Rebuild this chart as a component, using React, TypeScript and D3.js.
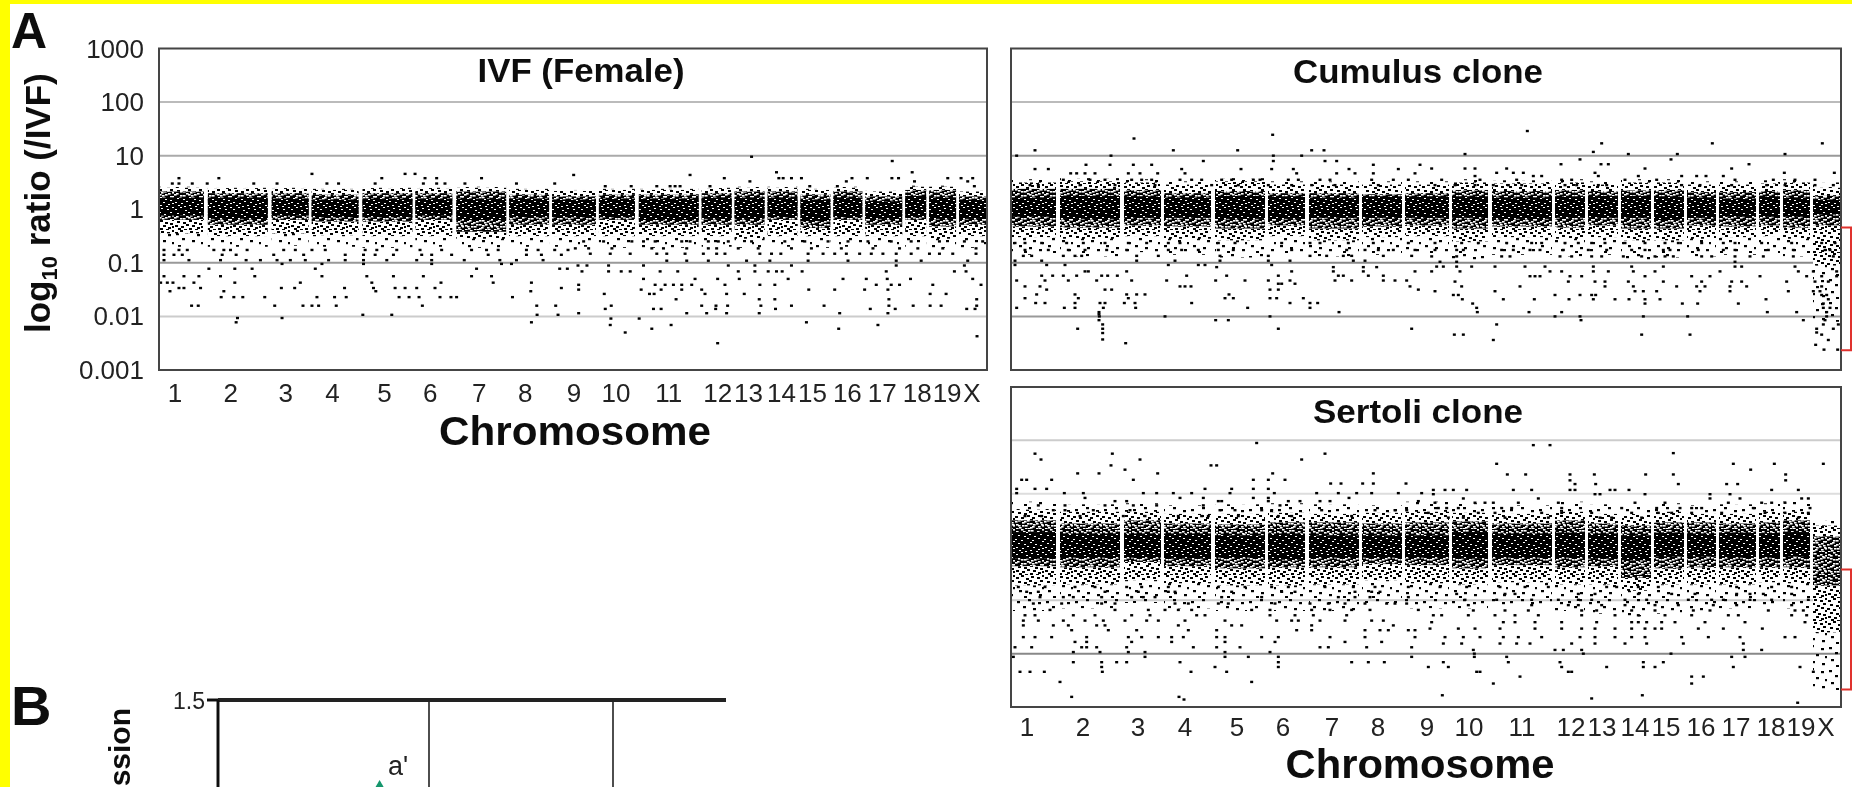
import React from "react";
import * as d3 from "d3";

// ---------- shared categories ----------
const chromosomes = ["1","2","3","4","5","6","7","8","9","10","11","12","13","14","15","16","17","18","19","X"];
const chromStart = [0,49,113,153,204,257,298,351,394,441,481,544,577,610,643,676,708,748,772,802];
const chromEnd   = [45,109,150,200,254,294,348,391,438,477,541,574,607,640,673,705,745,769,799,829];
const chromLabelAt = [16,72,127,174,226,272,321,367,416,458,511,560,591,624,655,690,725,760,790,815];
const ratioTicks = [1000,100,10,1,0.1,0.01,0.001];
const ratioTickLabels = ["1000","100","10","1","0.1","0.01","0.001"];

// ---------- density bands per chromosome (log10 ratio) ----------
const ivfDenseHi = [.22,.22,.2,.18,.2,.2,.2,.2,.18,.2,.2,.22,.22,.22,.18,.22,.15,.25,.22,.18];
const ivfDenseLo = [-.12,-.18,-.12,-.15,-.15,-.12,-.2,-.15,-.15,-.15,-.2,-.18,-.18,-.15,-.22,-.15,-.18,-.15,-.18,-.18];
const ivfMidHi = [.33,.3,.3,.27,.3,.3,.33,.27,.24,.27,.27,.3,.33,.33,.27,.33,.24,.36,.36,.24];
const ivfMidLo = [-.2,-.29,-.2,-.23,-.23,-.2,-.42,-.29,-.29,-.2,-.29,-.29,-.29,-.2,-.35,-.2,-.29,-.2,-.32,-.29];
const ivfSparseHi = [.4,.38,.38,.36,.38,.38,.4,.36,.34,.36,.36,.38,.4,.4,.36,.4,.33,.42,.42,.33];
const ivfSparseLo = [-.45,-.5,-.45,-.48,-.5,-.5,-.55,-.5,-.5,-.5,-.5,-.5,-.55,-.5,-.5,-.5,-.5,-.5,-.55,-.5];
const ivfTailHi = [.42,.4,.4,.38,.4,.4,.42,.38,.36,.38,.38,.4,.42,.42,.38,.42,.35,.44,.44,.35];
const ivfTailLo = [-.7,-.7,-.68,-.7,-.72,-.7,-.72,-.7,-.7,-.72,-.72,-.7,-.72,-.7,-.72,-.7,-.7,-.7,-.72,-.72];

const cumDenseHi = [.22,.25,.24,.22,.25,.24,.22,.24,.24,.24,.22,.24,.25,.25,.24,.22,.2,.24,.22,.18];
const cumDenseLo = [-.14,-.18,-.16,-.16,-.18,-.18,-.16,-.16,-.16,-.16,-.18,-.16,-.16,-.16,-.2,-.16,-.14,-.14,-.14,-.1];
const cumMidHi = [.38,.38,.36,.3,.34,.3,.3,.28,.3,.36,.34,.36,.34,.35,.36,.32,.32,.34,.36,.25];
const cumMidLo = [-.32,-.34,-.3,-.32,-.36,-.3,-.36,-.32,-.3,-.36,-.32,-.34,-.3,-.36,-.36,-.3,-.32,-.3,-.34,-.3];
const cumSparseHi = [.5,.52,.5,.46,.52,.46,.46,.46,.46,.5,.48,.5,.46,.5,.5,.46,.46,.48,.5,.4];
const cumSparseLo = [-.52,-.55,-.5,-.55,-.58,-.5,-.58,-.52,-.5,-.6,-.52,-.55,-.52,-.58,-.58,-.55,-.52,-.5,-.55,-1.05];
const cumTailHi = [.56,.58,.56,.52,.58,.52,.52,.52,.52,.56,.54,.56,.52,.56,.56,.52,.52,.54,.56,.5];
const cumTailLo = [-.85,-.88,-.8,-.85,-.9,-.82,-.88,-.85,-.82,-.95,-.85,-.88,-.85,-.95,-.9,-.88,-.85,-.82,-.88,-2.1];

const serDenseHi = [.28,.25,.25,.25,.22,.25,.22,.22,.22,.28,.25,.27,.25,.22,.27,.25,.27,.26,.28,0];
const serDenseLo = [-.22,-.2,-.2,-.22,-.2,-.24,-.2,-.2,-.2,-.22,-.2,-.2,-.22,-.25,-.18,-.18,-.2,-.2,-.18,0];
const serMidHi = [.5,.44,.5,.44,.42,.46,.46,.44,.46,.48,.44,.5,.44,.4,.46,.46,.44,.46,.5,.2];
const serMidLo = [-.36,-.38,-.28,-.36,-.4,-.38,-.38,-.32,-.34,-.4,-.34,-.38,-.36,-.58,-.4,-.38,-.38,-.38,-.38,-.72];
const serSparseHi = [.7,.66,.66,.62,.62,.64,.62,.64,.66,.64,.62,.66,.62,.6,.66,.62,.62,.66,.66,.4];
const serSparseLo = [-.72,-.7,-.62,-.68,-.72,-.72,-.7,-.62,-.68,-.7,-.66,-.7,-.7,-.82,-.7,-.7,-.7,-.66,-.68,-1.6];
const serTailHi = [.85,.8,.82,.78,.8,.82,.8,.78,.85,.82,.78,.85,.8,.75,.82,.78,.8,.82,.85,.5];
const serTailLo = [-1.2,-1.15,-1.05,-1.15,-1.2,-1.2,-1.2,-1.05,-1.15,-1.15,-1.1,-1.2,-1.25,-1.3,-1.25,-1.2,-1.15,-1.1,-1.15,-2.7];

// ---------- individually legible spots: [log10 ratio, positions in thirds of a genome unit] ----------
type Row = [number, number[]];
const ivfRowsA: Row[] = [
  [.66,[460,740,770]],[.58,[60,180,670,800,835,970]],[.48,[40,60,100,145,285,355,505,540,650,795,835,860,920,1075,1190]],
  [-.76,[15,60,85,165,195,215,265,375,410,460,500,620,655,715,785,850,940,985,1020,1105,1140,1190,1230]],
  [-.85,[15,45,70,190,232,345,435,560,615,650,705,790,820,880,990,1105,1150,1210]],
  [-.95,[15,90,185,262,305,355,395,440,510,560,615,685,775,820,918,1025,1075,1155]],
  [-1.02,[370,490,615,820,1030,1060]],[-1.11,[150,228,280,470,955,1205,1228]],
  [-1.25,[15,75,120,185,288,490,625,705,795,1000,940]],[-1.37,[5,25,42,105,228,425,640,848,1005,1120]],
  [-1.47,[125,60,75,368,408,558,645,710,740,775,830,1210]],[-1.53,[33,195,652,1118]],
  [-1.64,[187,225,252,318,528,563,475,722,752,782,845,878,895,1063]],[-1.8,[98,118,348,433,460,480,533,792,1136,1193]],
  [-1.97,[613,700,1137,1200]],[-2.03,[236,370]],[-2.11,[232,1120]],
];
const ivfRowsB: Row[] = [
  [.98,[540]],[.9,[963]],[.69,[615,1023]],[.64,[5,355]],[.58,[458,622,635,660,690,842,888,962,982,1130,1170,1205]],
  [.52,[535,825,1030,1190]],[.43,[100,178,255,295,310,325,415,715,798,1210]],
  [-.6,[35,95,180,215,250,330,355,410,440,470,540,640,700,770,830,890,960,1020,1105,1180,1235]],
  [-.73,[10,50,120,240,275,345,410,435,500,560,660,720,810,905,985,1040,1115,1215]],
  [-.83,[55,115,175,255,285,340,395,435,460,565,600,628,710,755,790,825,865,900,935,975,1020,1075,1105,1145,1215]],
  [-.96,[285,345,410,525,595,710,830,975,1050,1190]],[-1.05,[18,45,110,215,470,550,660,975,1180]],
  [-1.16,[110,30,148,175,265,318,500,550,590,615,632,692,945,1150,1185]],
  [-1.3,[215,370,438,503,650,815,885,948,1018,1205]],[-1.41,[20,250,280,305,330,360,460,565,610,915,960,985,1085,1230]],
  [-1.5,[20,208,268,330,390,712,790,880,950]],[-1.58,[97,233,247,400,465,518,1077,1125]],
  [-1.68,[313,563,610,953,1217]],[-1.8,[118,390,433,468,568,660,758,953,1026,1077,1110,1217]],
  [-1.86,[100,245,268,432,612,897,972,1187,1212]],[-1.94,[20,345,405,465,563,805,950]],
  [-2.04,[117,202]],[-2.11,[705]],[-2.16,[115,298,920]],[-2.23,[240,802]],[-2.3,[160]],[-2.37,[1218]],[-2.5,[438]],
];
const cumRowsA: Row[] = [
  [1.39,[803]],[1.32,[387]],[1.1,[90,505,698,920,957]],[1,[35,318,805,890]],[.9,[595,805,960,995]],
  [.83,[243,315,385,440,1105,1245]],[.75,[90,130,530,708,800,865,1032,1180]],
  [.67,[197,215,240,270,370,405,458,540,875,995,1050,1105,1230]],
  [.55,[175,255,300,380,410,440,525,560,590,650,680,745,765,850,880,945,975,1100,1165,1210]],
  [.45,[75,100,225,330,450,620,700,790,860,920,990,1120]],
  [-.63,[30,60,110,185,235,300,370,425,490,525,640,690,830,915,945,1030,1105,1210]],
  [-.76,[60,130,190,240,305,365,490,530,580,640,685,860,1025,1080,1120,1165,1230]],
  [-.87,[55,80,175,210,230,395,460,645,790,915,965,1015,1040,1135,1220]],[-.96,[30,110,395,510,645,790,855,1045,1080]],
  [-1.04,[30,125,180,490,580,600,800]],[-1.08,[635,985,1075,1115]],[-1.16,[240,250,365,860,985,1075,1230]],
  [-1.24,[110,143,175,215,290,308,337,545,665,820,1000,1015,1090,1135]],
  [-1.33,[35,120,190,275,380,485,632,720,790,855,990,1040,1135,1170,1205]],[-1.39,[820,830,870]],
  [-1.44,[60,105,525,540,558,1215]],[-1.5,[125,300,320,795,820,1240]],[-1.59,[95,210,365,395,672,420]],
  [-1.66,[60,220,370,685,660,795,815,895]],[-1.75,[92,120,210,285,300,358,390,560,855,915,938]],
  [-1.84,[35,178,210,295,392,728,915]],[-1.92,[282,1002]],[-1.96,[282]],[-2,[480,283,795]],[-2.07,[282,632,670]],
  [-2.15,[293]],[-2.23,[218,293,820,1220]],[-2.31,[293]],[-2.43,[293]],[-2.5,[362]],
];
const cumRowsB: Row[] = [
  [1.46,[307]],[1.23,[530,862,1192]],[1.07,[505]],[1.03,[120,610,757,1080]],[.93,[465,738]],[.84,[408,528,972,550]],
  [.76,[20,120,150,245,660,920]],[.68,[215,265,295,510,1078,1228]],[.62,[150,325,350,520,640,770,815,843,895]],
  [.55,[50,165,275,410,440,600,695,930,1045,1110,1170]],
  [.45,[30,90,150,205,250,290,420,455,520,545,770,825,920,1025,1080,1170,1225]],
  [-.63,[30,110,160,245,320,350,420,460,500,540,600,660,720,760,830,895,930,1010,1100,1190,1230]],
  [-.76,[30,95,115,230,265,315,345,415,490,545,620,660,715,735,820,895,930,1030,1105,1200,1215]],
  [-.88,[20,95,230,255,405,440,500,530,595,650,690,720,745,830,860,930,975,1015,1105,1225]],[-.98,[45,95,930]],
  [-1.07,[35,55,95,140,210,300,360,505,620,715,930,950,1110]],[-1.16,[20,105,375,410,505,550,625,690,885,1120,1165,1235]],
  [-1.25,[315,330,345,435,470,660,800,855,1005,1145,1190,1235]],[-1.35,[90,430,510,540,610,715,830,920,950,1085,1170,1210]],
  [-1.44,[110,285,540,625,755,815,840,915,965,1190]],[-1.53,[30,210,630,655,695,825,915,1090,1165,1185]],
  [-1.6,[85,100,390,465,500,512,1205,1190]],[-1.68,[112,235,328,432,505,570,612,660,705,1023,1210]],
  [-1.76,[143,660,772,818,940,1195]],[-1.84,[155,1195,1215]],[-1.92,[157,312,410,1027,1115,1205]],
  [-2,[390,465,655,788,1205]],[-2.07,[468,1135,1200]],[-2.15,[215,1195,1240]],[-2.23,[1175,1225]],[-2.3,[1175]],
  [-2.34,[88,115,650,795,1190]],[-2.44,[205,1210]],[-2.53,[1172]],[-2.62,[1197,1238]],
];
const serRowsA: Row[] = [
  [1.95,[755]],[1.75,[90,322,960]],[1.64,[108,405,890]],[1.53,[318,618,635]],[1.45,[360]],[1.38,[218,282,458,803,1105]],
  [1.26,[50,65,140,385,840,745,790]],[1.19,[1008,977,1073,1105,1203]],[1.09,[35,90,125,600,680,745,790]],
  [1.01,[35,178,235,415,455,505,560,675,808,935,1000,1055,1100,1180,1250]],[.92,[240,525,595,745,790,1032]],
  [.86,[330,365,640,650,790,850,885,945,975,1240]],[.78,[100,180,300,385,455,595,825]],
  [.69,[145,180,265,375,645,690,770,800,950,1110,1170,1205]],[.58,[60,110,225,355,420,520,590,610,700,820,860,1040]],
  [-.75,[40,120,210,270,365,410,490,640,720,800,850,960,1045,1110,1210]],
  [-.84,[65,100,300,400,490,510,680,830,870,1050,1100,1125]],[-.94,[105,175,205,290,380,415,450,650,770,1000,1050,1095,1210]],
  [-1.06,[85,170,290,330,510,550,640,670,810,915,970,1020,1080,1145,1170,1205]],
  [-1.18,[135,330,430,480,520,560,740,795,920,975,1040,1095,1240]],[-1.28,[60,90,205,270,380,435,575,600,795,870,925,1025]],
  [-1.38,[55,100,175,240,295,360,425,460,540,660,815,860,880,945,1020,1100,1135]],
  [-1.47,[55,145,190,275,300,520,710,680,920,1165]],[-1.56,[200,310,395,550,635,875,920,1080,1125,1150,1210,1230]],
  [-1.69,[55,90,140,245,370,410,460,500,535,635,660,770,820,975,1080,1230]],[-1.78,[210,245,380,500,660,810,1020,1130]],
  [-1.88,[30,80,230,245,275,365,565,635,705,945,970,1085,1220]],[-1.97,[205,285,370,420,660,795]],
  [-2.06,[25,420,660,730,820,1220]],[-2.16,[205,290,335,365,525,820,1040,1090,1138]],[-2.25,[290,630,820]],
  [-2.34,[45,75,118,292,558,665]],[-2.53,[165,740]],[-2.81,[200,522]],[-2.86,[537]],
];
const serRowsB: Row[] = [
  [1.91,[325,375]],[1.76,[745]],[1.56,[215,925,1048,1195]],[1.45,[977]],[1.36,[247,302,435,508,662,745,1082]],[1.25,[435,1082]],
  [1.18,[450,512,760,905,938]],[1.07,[25,60,85,125,265,320,435,450,555,570,612,1120,1040]],[.99,[25,510,525,660,855,915]],
  [.91,[115,340,855,945,1130,1150]],[.83,[30,150,180,205,280,400,630,720,910,1010,1040,1080]],
  [.73,[40,65,100,230,260,410,590,695,765,800,830,985,1155]],[.64,[10,160,210,350,410,500,620,700,740,800,890,1020,1080,1150]],
  [.55,[70,115,240,370,525,560,650,1120]],
  [-.75,[45,125,225,300,370,545,575,640,700,935,1040,1100]],[-.88,[95,240,270,460,510,640,740,810,935,975,1015,1100]],
  [-.99,[120,215,320,400,460,500,600,665,790,860,895,975,1040,1150]],[-1.09,[130,320,430,460,530,600,690,760,865,935,1100]],
  [-1.19,[145,240,310,470,515,620,690,805,855,1030,1110,1135]],[-1.28,[25,50,130,210,270,340,470,570,640,720,800,910,940,1100,1145]],
  [-1.41,[20,235,270,330,410,515,620,640,665,710,750,840,960,1140]],
  [-1.53,[15,100,150,225,330,410,470,510,570,620,660,690,710,820,895,1012]],
  [-1.69,[60,115,165,235,280,350,465,510,570,620,660,770,850,945,1080,1110]],[-1.81,[55,110,225,275,315,440,510,600,665,775,955]],
  [-1.93,[145,390,415,470,955,1010]],[-2,[148,475,738]],[-2.06,[148,245,920,960]],[-2.16,[55,250,405,655,715]],
  [-2.25,[10,70,410,545,655,690,925,1125]],[-2.34,[155,165,430,440,1165]],[-2.43,[285,800,835]],[-2.56,[205,800]],
  [-2.78,[52,652]],[-2.84,[500]],[-2.92,[1118]],
];

// ---------- bracket ranges (log10 ratio) and panel B ----------
const cumBracket = [-.34,-2.63];
const serBracket = [-.42,-2.67];
const bTickValue = 1.5;
const bMarker = { x: 379.6, value: 1.02, label: "a'" };

// ---------- hand-laid speckle tiles ----------
const speckA = [[1,2],[6,0],[11,3],[16,1],[22,2],[27,0],[3,6],[9,7],[14,5],[19,7],[25,5],[0,10],[6,11],[12,9],[17,11],[23,9],[27,12],[3,14],[9,15],[15,13],[20,15],[25,16],[1,18],[7,19],[12,17],[18,18],[23,20],[27,19],[4,21],[10,22],[15,21],[21,22]];
const speckB = [[3,3],[8,2],[13,1],[19,3],[24,4],[0,5],[6,7],[11,6],[16,8],[22,6],[27,8],[2,9],[9,11],[14,10],[20,10],[25,12],[5,13],[12,14],[18,13],[23,14],[0,15],[7,16],[15,17],[21,17],[26,18],[3,19],[10,19],[17,20],[24,22],[1,22],[13,22],[27,3]];
const tailSpeck = [[2,3],[13,1],[23,4],[8,8],[18,10],[27,12],[4,15],[14,17],[24,19],[9,21]];

// ---------- panels ----------
type Band = { denseHi:number[]; denseLo:number[]; midHi:number[]; midLo:number[]; sparseHi:number[]; sparseLo:number[]; tailHi:number[]; tailLo:number[] };
const ivfBand: Band = { denseHi:ivfDenseHi, denseLo:ivfDenseLo, midHi:ivfMidHi, midLo:ivfMidLo, sparseHi:ivfSparseHi, sparseLo:ivfSparseLo, tailHi:ivfTailHi, tailLo:ivfTailLo };
const cumBand: Band = { denseHi:cumDenseHi, denseLo:cumDenseLo, midHi:cumMidHi, midLo:cumMidLo, sparseHi:cumSparseHi, sparseLo:cumSparseLo, tailHi:cumTailHi, tailLo:cumTailLo };
const serBand: Band = { denseHi:serDenseHi, denseLo:serDenseLo, midHi:serMidHi, midLo:serMidLo, sparseHi:serSparseHi, sparseLo:serSparseLo, tailHi:serTailHi, tailLo:serTailLo };

const FONT = "'Liberation Sans', Arial, sans-serif";

function Panel(p: {
  title: string; left: number; right: number; top: number; bottom: number; band: Band;
  rowsA: Row[]; rowsB: Row[]; offA: number; offB: number; grid: string[]; bracket?: number[];
  titleY: number; titleLen: number; titleDx: number; labelY?: number; xTitleY?: number; xTitleLen?: number; xTitleDx?: number;
}) {
  const x = d3.scaleLinear().domain([0, 830]).range([p.left, p.right]);
  const y = d3.scaleLog().domain([0.001, 1000]).range([p.bottom, p.top]);
  const yl = (v: number) => y(Math.pow(10, v));
  const spots: { gx: number; v: number }[] = [];
  p.rowsA.forEach(([v, xs]) => xs.forEach((t) => spots.push({ gx: (t + p.offA) / 3, v })));
  p.rowsB.forEach(([v, xs]) => xs.forEach((t) => spots.push({ gx: (t + p.offB) / 3, v })));
  const layer = (hi: number[], lo: number[], fill: string) =>
    chromosomes.map((c, i) => (
      <rect key={c + fill} x={x(chromStart[i])} width={x(chromEnd[i]) - x(chromStart[i])}
        y={yl(hi[i])} height={Math.max(0, yl(lo[i]) - yl(hi[i]))} fill={fill} />
    ));
  const gridTicks = ratioTicks.slice(1, -1).filter((t) => t !== 1);
  return (
    <g>
      {gridTicks.map((t, i) => (
        <line key={t} x1={p.left} x2={p.right} y1={y(t)} y2={y(t)} stroke={p.grid[i]} strokeWidth={2} />
      ))}
      {layer(p.band.tailHi, p.band.tailLo, "url(#speckTail)")}
      {layer(p.band.sparseHi, p.band.sparseLo, "url(#speckHalo)")}
      {layer(p.band.midHi, p.band.midLo, "url(#speckShoulder)")}
      {layer(p.band.denseHi, p.band.denseLo, "url(#speckCore)")}
      {spots.map((s, i) => (
        <rect key={i} x={x(s.gx) - 1.5} y={yl(s.v) - 1.2} width={3} height={2.4} fill="#000" />
      ))}
      <rect x={p.left} y={p.top} width={p.right - p.left} height={p.bottom - p.top} fill="none" stroke="#444" strokeWidth={2} />
      <text x={(p.left + p.right) / 2 + p.titleDx} y={p.titleY} textAnchor="middle" fontFamily={FONT}
        fontWeight={700} fontSize={34} textLength={p.titleLen} lengthAdjust="spacingAndGlyphs" fill="#111">{p.title}</text>
      {p.labelY !== undefined && chromosomes.map((c, i) => (
        <text key={c} x={x(chromLabelAt[i])} y={p.labelY} textAnchor="middle" fontFamily={FONT} fontSize={26} fill="#222">{c}</text>
      ))}
      {p.xTitleY !== undefined && (
        <text x={(p.left + p.right) / 2 + (p.xTitleDx ?? 0)} y={p.xTitleY} textAnchor="middle" fontFamily={FONT}
          fontWeight={700} fontSize={40} textLength={p.xTitleLen} lengthAdjust="spacingAndGlyphs" fill="#111">Chromosome</text>
      )}
      {p.bracket && (
        <path d={`M${p.right},${yl(p.bracket[0])}H${p.right + 10}V${yl(p.bracket[1])}H${p.right}`} fill="none" stroke="#e0322e" strokeWidth={2} />
      )}
    </g>
  );
}

export default function App() {
  const leftY = d3.scaleLog().domain([0.001, 1000]).range([370, 48.5]);
  const bY = d3.scaleLinear().domain([0, 1.5]).range([1000, 700]);
  const tri = d3.symbol().type(d3.symbolTriangle).size(420)() as string;
  return (
    <svg width={1852} height={787} style={{ position: "absolute", left: 0, top: 0, background: "#fff" }}>
      <defs>
        <filter id="soft" filterUnits="userSpaceOnUse" x={0} y={0} width={1852} height={787}>
          <feGaussianBlur stdDeviation={0.55} />
        </filter>
        <pattern id="speckTail" patternUnits="userSpaceOnUse" width={29} height={23}>
          {tailSpeck.map(([a, b], i) => <rect key={i} x={a} y={b} width={3} height={2.2} fill="#000" />)}
        </pattern>
        <pattern id="speckHalo" patternUnits="userSpaceOnUse" width={29} height={23}>
          <rect width={29} height={23} fill="#fff" />
          {speckA.map(([a, b], i) => <rect key={i} x={a} y={b} width={3} height={2} fill="#000" />)}
        </pattern>
        <pattern id="speckShoulder" patternUnits="userSpaceOnUse" width={29} height={23}>
          <rect width={29} height={23} fill="#000" />
          {speckA.map(([a, b], i) => <rect key={i} x={a} y={b} width={2.6} height={1.6} fill="#fff" />)}
          {speckB.map(([a, b], i) => <rect key={"b" + i} x={a} y={b} width={2.6} height={1.6} fill="#fff" />)}
        </pattern>
        <pattern id="speckCore" patternUnits="userSpaceOnUse" width={29} height={23}>
          <rect width={29} height={23} fill="#000" />
          {speckA.map(([a, b], i) => <rect key={i} x={a} y={b} width={2} height={1} fill="#fff" />)}
        </pattern>
      </defs>
      <rect x={0} y={0} width={1852} height={787} fill="#fff" />
      <g filter="url(#soft)">
        <Panel title="IVF (Female)" left={159} right={987} top={48.5} bottom={370} band={ivfBand}
          rowsA={ivfRowsA} rowsB={ivfRowsB} offA={0} offB={1242} grid={["#bbb","#aaa","#999","#ccc"]}
          titleY={82} titleLen={207} titleDx={8} labelY={402} xTitleY={445} xTitleLen={272} xTitleDx={2} />
        <Panel title="Cumulus clone" left={1011} right={1841} top={48.5} bottom={370} band={cumBand}
          rowsA={cumRowsA} rowsB={cumRowsB} offA={-18} offB={1242} grid={["#bbb","#999","#888","#999"]} bracket={cumBracket}
          titleY={83} titleLen={250} titleDx={-8} />
        <Panel title="Sertoli clone" left={1011} right={1841} top={387} bottom={707} band={serBand}
          rowsA={serRowsA} rowsB={serRowsB} offA={-18} offB={1242} grid={["#ccc","#ddd","#ccc","#888"]} bracket={serBracket}
          titleY={423} titleLen={210} titleDx={-8} labelY={736} xTitleY={778} xTitleLen={269} xTitleDx={-6} />

        {ratioTicks.map((t, i) => (
          <text key={t} x={144} y={leftY(t) + 9} textAnchor="end" fontFamily={FONT} fontSize={26} fill="#222">{ratioTickLabels[i]}</text>
        ))}
        <text transform="translate(50,333) rotate(-90)" fontFamily={FONT} fontWeight={700} fontSize={35} fill="#111">
          log<tspan fontSize={22} dy={7}>10</tspan><tspan dy={-7}> ratio (/IVF)</tspan>
        </text>
        <text x={11} y={48} fontFamily={FONT} fontWeight={700} fontSize={50} fill="#111">A</text>
        <text x={11} y={725} fontFamily={FONT} fontWeight={700} fontSize={56} fill="#111">B</text>

        <line x1={218} x2={726} y1={bY(bTickValue)} y2={bY(bTickValue)} stroke="#222" strokeWidth={4} />
        <line x1={207} x2={218} y1={bY(bTickValue)} y2={bY(bTickValue)} stroke="#111" strokeWidth={3} />
        <line x1={218} x2={218} y1={bY(bTickValue)} y2={787} stroke="#111" strokeWidth={3} />
        <line x1={429} x2={429} y1={bY(bTickValue)} y2={787} stroke="#222" strokeWidth={1.6} />
        <line x1={613} x2={613} y1={bY(bTickValue)} y2={787} stroke="#222" strokeWidth={1.6} />
        <text x={205} y={bY(bTickValue) + 9} textAnchor="end" fontFamily={FONT} fontSize={24} textLength={32} lengthAdjust="spacingAndGlyphs" fill="#222">{String(bTickValue)}</text>
        <text transform="translate(130,708) rotate(-90)" textAnchor="end" fontFamily={FONT} fontWeight={700} fontSize={30} fill="#111">expression</text>
        <text x={388} y={775} fontFamily={FONT} fontSize={27} fill="#222">{bMarker.label}</text>
        <path transform={`translate(${bMarker.x},${bY(bMarker.value) + 2})`} d={tri} fill="#12966c" />
      </g>
      <rect x={0} y={0} width={1852} height={4} fill="#ffff00" />
      <rect x={0} y={0} width={10} height={787} fill="#ffff00" />
    </svg>
  );
}
